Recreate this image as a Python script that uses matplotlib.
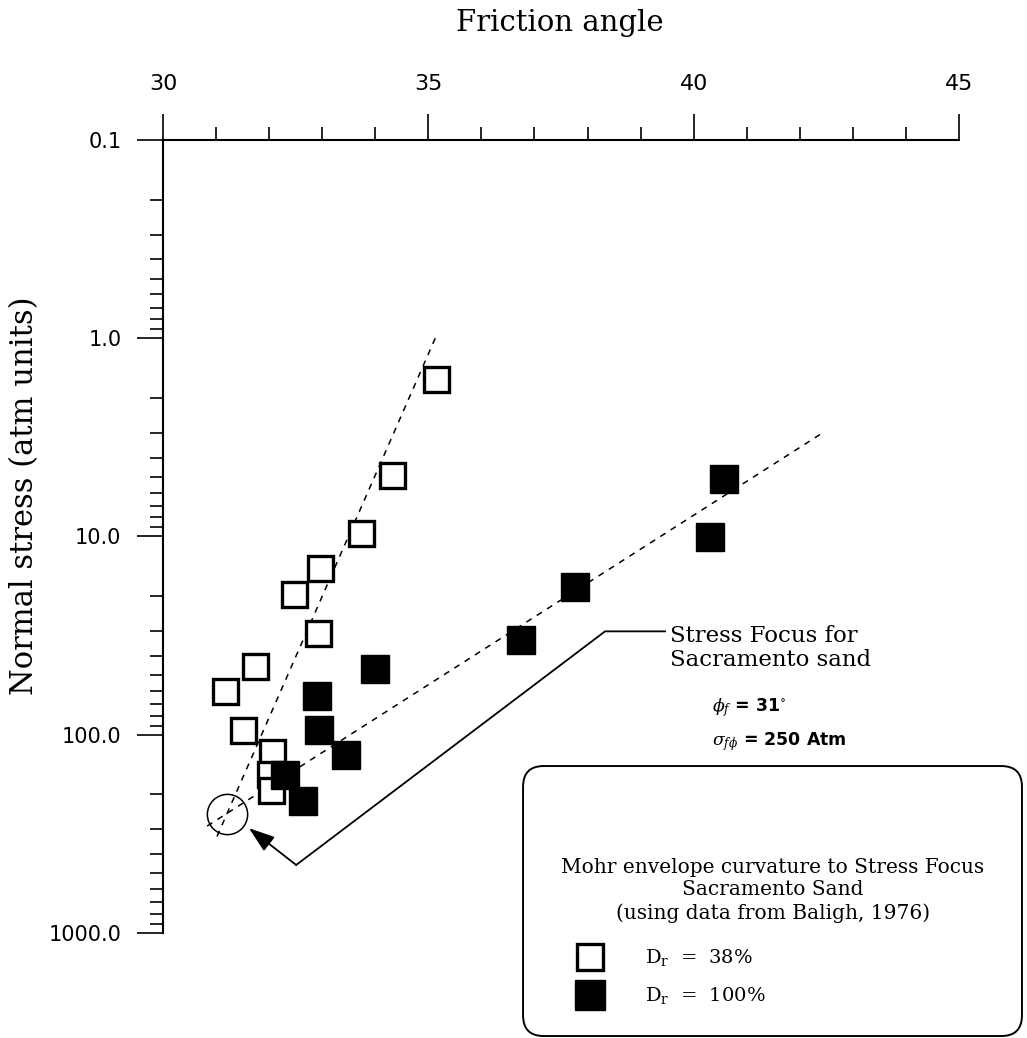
import matplotlib
matplotlib.use("Agg")
import matplotlib.pyplot as plt
from matplotlib.patches import FancyBboxPatch
from matplotlib.lines import Line2D
from matplotlib.ticker import FixedLocator, MultipleLocator, LogLocator, NullFormatter

plt.rcParams['mathtext.fontset'] = 'dejavuserif'

# Baligh (1976) data, Sacramento sand
phi_38 = [35.14, 34.32, 33.73, 32.96, 32.47, 32.92, 31.73, 31.17, 31.51, 32.05, 32.02, 32.04]
sig_38 = [1.6, 4.9, 9.6, 14.5, 19.6, 30.8, 45.2, 60.4, 94.8, 122.0, 158.0, 190.0]

phi_100 = [40.57, 40.31, 37.76, 36.75, 33.99, 32.90, 32.94, 33.45, 32.30, 32.64]
sig_100 = [5.1, 10.1, 17.9, 33.4, 46.8, 64.0, 94.8, 126.8, 160.0, 216.0]

# envelope trend lines (end points)
trend_38_phi = [35.13, 30.98]
trend_38_sig = [1.0, 344.0]
trend_100_phi = [42.38, 30.77]
trend_100_sig = [3.06, 296.0]

# stress focus
focus_phi = 31.2
focus_sig = 250.0

# leader line from the label to the focus
leader_phi = [39.46, 38.33, 32.51]
leader_sig = [30.1, 30.1, 454.0]
arrow_tip = (31.62, 296.0)

y_ticks = [0.1, 1.0, 10.0, 100.0, 1000.0]
y_labels = ['0.1', '1.0', '10.0', '100.0', '1000.0']
x_ticks = [30, 35, 40, 45]

fig = plt.figure(figsize=(10.27, 10.38), dpi=100)
ax = fig.add_axes([0.1587, 0.1012, 0.7751, 0.7639])

ax.plot(trend_38_phi, trend_38_sig, color='k', lw=1.1, ls=(0, (4, 4)), zorder=1)
ax.plot(trend_100_phi, trend_100_sig, color='k', lw=1.1, ls=(0, (4, 4)), zorder=1)

ax.plot(phi_38, sig_38, 's', ms=18, mfc='white', mec='k', mew=2.4, ls='none', zorder=3)
ax.plot(phi_100, sig_100, 's', ms=20, mfc='k', mec='k', mew=1, ls='none', zorder=4)

ax.plot([focus_phi], [focus_sig], 'o', ms=29, mfc='none', mec='k', mew=1.1, zorder=2)

ax.plot(leader_phi, leader_sig, color='k', lw=1.3, zorder=2)
ax.annotate('', xy=arrow_tip, xytext=(leader_phi[-1], leader_sig[-1]),
            arrowprops=dict(arrowstyle='-|>,head_length=1.6,head_width=0.55',
                            color='k', lw=1.3, shrinkA=0, shrinkB=0))

ax.text(39.55, 36.6, 'Stress Focus for\nSacramento sand', family='DejaVu Serif',
        fontsize=16.5, ha='left', va='center', linespacing=1.15)
ax.text(40.34, 72.6, r'$\phi_f$ = 31$^{\circ}$', fontsize=12.5, fontweight='bold',
        ha='left', va='center')
ax.text(40.34, 108, r'$\sigma_{f\phi}$ = 250 Atm', fontsize=12.5, fontweight='bold',
        ha='left', va='center')

ax.set_yscale('log')
ax.set_xlim(30, 45)
ax.set_ylim(1000, 0.1)

ax.spines['right'].set_visible(False)
ax.spines['bottom'].set_visible(False)
ax.spines['left'].set_linewidth(1.5)
ax.spines['top'].set_linewidth(1.5)

ax.xaxis.tick_top()
ax.xaxis.set_major_locator(FixedLocator(x_ticks))
ax.xaxis.set_minor_locator(MultipleLocator(1))
ax.set_xticklabels([str(t) for t in x_ticks], family=['Liberation Sans Narrow', 'DejaVu Sans'],
                   fontsize=16)

ax.yaxis.set_major_locator(FixedLocator(y_ticks))
ax.yaxis.set_minor_locator(LogLocator(base=10, subs=range(2, 10)))
ax.yaxis.set_minor_formatter(NullFormatter())
ax.set_yticklabels(y_labels, family='DejaVu Sans', fontsize=15)

ax.tick_params(axis='both', which='major', direction='out', length=19, width=1.2, color='k')
ax.tick_params(axis='both', which='minor', direction='out', length=9.5, width=1.2, color='k')
ax.tick_params(axis='x', which='major', pad=14)
ax.tick_params(axis='y', which='major', pad=11)

ax.xaxis.set_label_position('top')
ax.set_xlabel('Friction angle', family='DejaVu Serif', fontsize=21)
ax.xaxis.set_label_coords(0.499, 1.138)
ax.set_ylabel('Normal stress (atm units)', family='DejaVu Serif', fontsize=22)
ax.yaxis.set_label_coords(-0.155, 0.552)

# legend panel
box = FancyBboxPatch((0.5093, 0.0019), 0.4858, 0.2601, transform=fig.transFigure,
                     boxstyle='round,pad=0,rounding_size=0.02', fc='white', ec='k', lw=1.4,
                     zorder=5)
fig.add_artist(box)
legend_title = ['Mohr envelope curvature to Stress Focus', 'Sacramento Sand',
                '(using data from Baligh, 1976)']
for line, yy in zip(legend_title, [0.1638, 0.1426, 0.1204]):
    fig.text(0.7527, yy, line, family='DejaVu Serif', fontsize=14.5, ha='center', va='center',
             zorder=6)

fig.add_artist(Line2D([0.5745], [0.0780], marker='s', ms=19, mfc='white', mec='k', mew=2.4,
                      transform=fig.transFigure, zorder=6))
fig.add_artist(Line2D([0.5745], [0.0414], marker='s', ms=21, mfc='k', mec='k', mew=1,
                      transform=fig.transFigure, zorder=6))
fig.text(0.628, 0.0780, r'D$_\mathrm{r}$  =  38%', family='DejaVu Serif', fontsize=14,
         ha='left', va='center', zorder=6)
fig.text(0.628, 0.0414, r'D$_\mathrm{r}$  =  100%', family='DejaVu Serif', fontsize=14,
         ha='left', va='center', zorder=6)

fig.savefig('out.png', dpi=100)
